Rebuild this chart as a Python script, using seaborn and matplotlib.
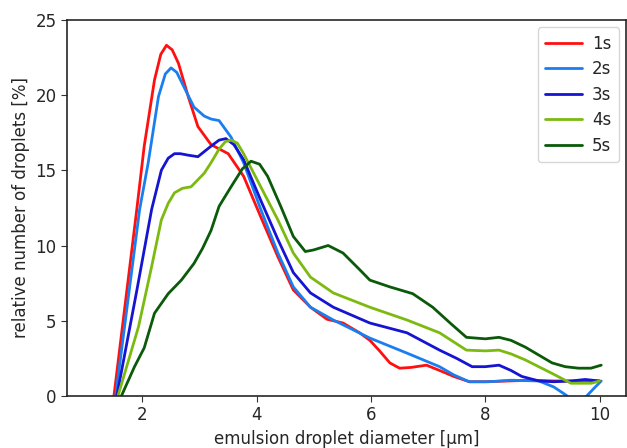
import pandas as pd
import matplotlib
matplotlib.use("Agg")
import matplotlib.pyplot as plt
import seaborn as sb

# droplet size distributions
x_1s = [1.5, 1.7, 1.9, 2.03, 2.21, 2.32, 2.42, 2.52, 2.63, 2.8, 2.97, 3.2, 3.5, 3.77, 4.07, 4.37, 4.64, 4.94,
        5.23, 5.51, 5.8, 5.98, 6.15, 6.33, 6.5, 6.7, 6.97, 7.2, 7.45, 7.72, 8.0, 8.4, 8.82, 9.2, 9.6, 10.0]
y_1s = [0.0, 6.2, 12.4, 16.6, 21.0, 22.7, 23.3, 23.0, 22.1, 19.9, 17.9, 16.7, 16.1, 14.6, 11.9, 9.25, 7.05, 5.9,
        5.1, 4.85, 4.2, 3.7, 3.0, 2.2, 1.85, 1.9, 2.05, 1.7, 1.3, 0.95, 0.95, 1.0, 1.05, 1.0, 1.0, 1.0]

x_2s = [1.53, 1.75, 1.95, 2.1, 2.28, 2.4, 2.5, 2.6, 2.73, 2.9, 3.08, 3.2, 3.34, 3.55, 3.77, 4.07, 4.37, 4.64, 4.94,
        5.34, 5.98, 6.63, 7.2, 7.45, 7.72, 8.07, 8.45, 8.94, 9.2, 9.41, 9.6, 9.75, 9.9, 10.03]
y_2s = [0.0, 6.5, 12.4, 15.5, 19.9, 21.4, 21.8, 21.5, 20.5, 19.2, 18.6, 18.4, 18.3, 17.2, 15.5, 12.4, 9.5, 7.25, 5.9,
        5.05, 3.85, 2.85, 1.95, 1.4, 0.95, 0.95, 1.05, 1.0, 0.6, 0.07, -0.5, -0.1, 0.5, 1.0]

x_3s = [1.55, 1.9, 2.16, 2.33, 2.45, 2.56, 2.66, 2.8, 2.97, 3.2, 3.34, 3.46, 3.6, 3.77, 4.07, 4.37, 4.64, 4.94,
        5.34, 5.98, 6.63, 7.2, 7.5, 7.77, 8.0, 8.24, 8.45, 8.64, 8.94, 9.2, 9.5, 9.75, 10.0]
y_3s = [0.0, 7.0, 12.4, 15.0, 15.8, 16.1, 16.1, 16.0, 15.9, 16.6, 17.0, 17.1, 16.7, 15.7, 13.0, 10.4, 8.2, 6.85,
        5.9, 4.85, 4.2, 3.05, 2.5, 1.95, 1.95, 2.05, 1.7, 1.3, 1.0, 0.95, 1.0, 1.1, 1.0]

x_4s = [1.57, 1.75, 1.93, 2.16, 2.33, 2.45, 2.56, 2.7, 2.85, 3.08, 3.2, 3.34, 3.45, 3.55, 3.66, 3.77, 4.07, 4.37,
        4.64, 4.94, 5.34, 5.98, 6.63, 7.2, 7.67, 8.0, 8.24, 8.45, 8.7, 9.17, 9.5, 9.86, 10.0]
y_4s = [0.0, 2.3, 4.6, 8.6, 11.7, 12.8, 13.5, 13.8, 13.9, 14.8, 15.5, 16.4, 16.9, 17.0, 16.8, 16.1, 13.9, 11.7,
        9.5, 7.9, 6.85, 5.9, 5.05, 4.2, 3.05, 3.0, 3.05, 2.8, 2.4, 1.5, 0.85, 0.85, 1.0]

x_5s = [1.63, 1.86, 2.03, 2.21, 2.45, 2.68, 2.9, 3.05, 3.2, 3.34, 3.55, 3.75, 3.9, 4.05, 4.19, 4.42, 4.64, 4.85,
        4.99, 5.25, 5.51, 5.8, 5.98, 6.33, 6.73, 7.08, 7.4, 7.67, 8.0, 8.24, 8.45, 8.7, 9.17, 9.4, 9.63, 9.85, 10.03]
y_5s = [0.0, 1.95, 3.2, 5.5, 6.8, 7.7, 8.8, 9.8, 11.0, 12.6, 13.9, 15.1, 15.6, 15.4, 14.6, 12.6, 10.6, 9.6,
        9.7, 10.0, 9.5, 8.4, 7.7, 7.25, 6.8, 5.9, 4.8, 3.9, 3.8, 3.9, 3.7, 3.25, 2.2, 1.95, 1.85, 1.85, 2.05]

labels = ["1s", "2s", "3s", "4s", "5s"]
colors = ["#ff1010", "#1a7ef0", "#1414d2", "#7cba10", "#0a5a0a"]

frames = []
for lab, xs, ys in zip(labels, [x_1s, x_2s, x_3s, x_4s, x_5s], [y_1s, y_2s, y_3s, y_4s, y_5s]):
    frames.append(pd.DataFrame({"d": xs, "n": ys, "t": lab}))
df = pd.concat(frames, ignore_index=True)

sb.set_style("ticks")
plt.rcParams["font.family"] = ["DejaVu Sans"]

fig = plt.figure(figsize=(6.27, 4.48), dpi=100)
ax = fig.add_axes([0.107, 0.116, 0.892, 0.84])
sb.lineplot(data=df, x="d", y="n", hue="t", palette=colors, sort=False,
            estimator=None, linewidth=2, ax=ax)

ax.set_xlim(0.68, 10.47)
ax.set_ylim(0, 25)
ax.set_xticks([2, 4, 6, 8, 10])
ax.set_yticks([0, 5, 10, 15, 20, 25])
ax.tick_params(labelsize=12, length=4, color="0.2")
ax.set_xlabel("emulsion droplet diameter [µm]", fontsize=12, color="0.15")
ax.set_ylabel("relative number of droplets [%]", fontsize=12, color="0.15")
for s in ax.spines.values():
    s.set_color("0.15")
    s.set_linewidth(1.2)

leg = ax.legend(loc="upper right", fontsize=12, handlelength=2.2, handletextpad=0.6,
                labelspacing=0.45, borderaxespad=0.45, borderpad=0.45)
leg.set_title(None)

fig.savefig("out.png", dpi=100)
